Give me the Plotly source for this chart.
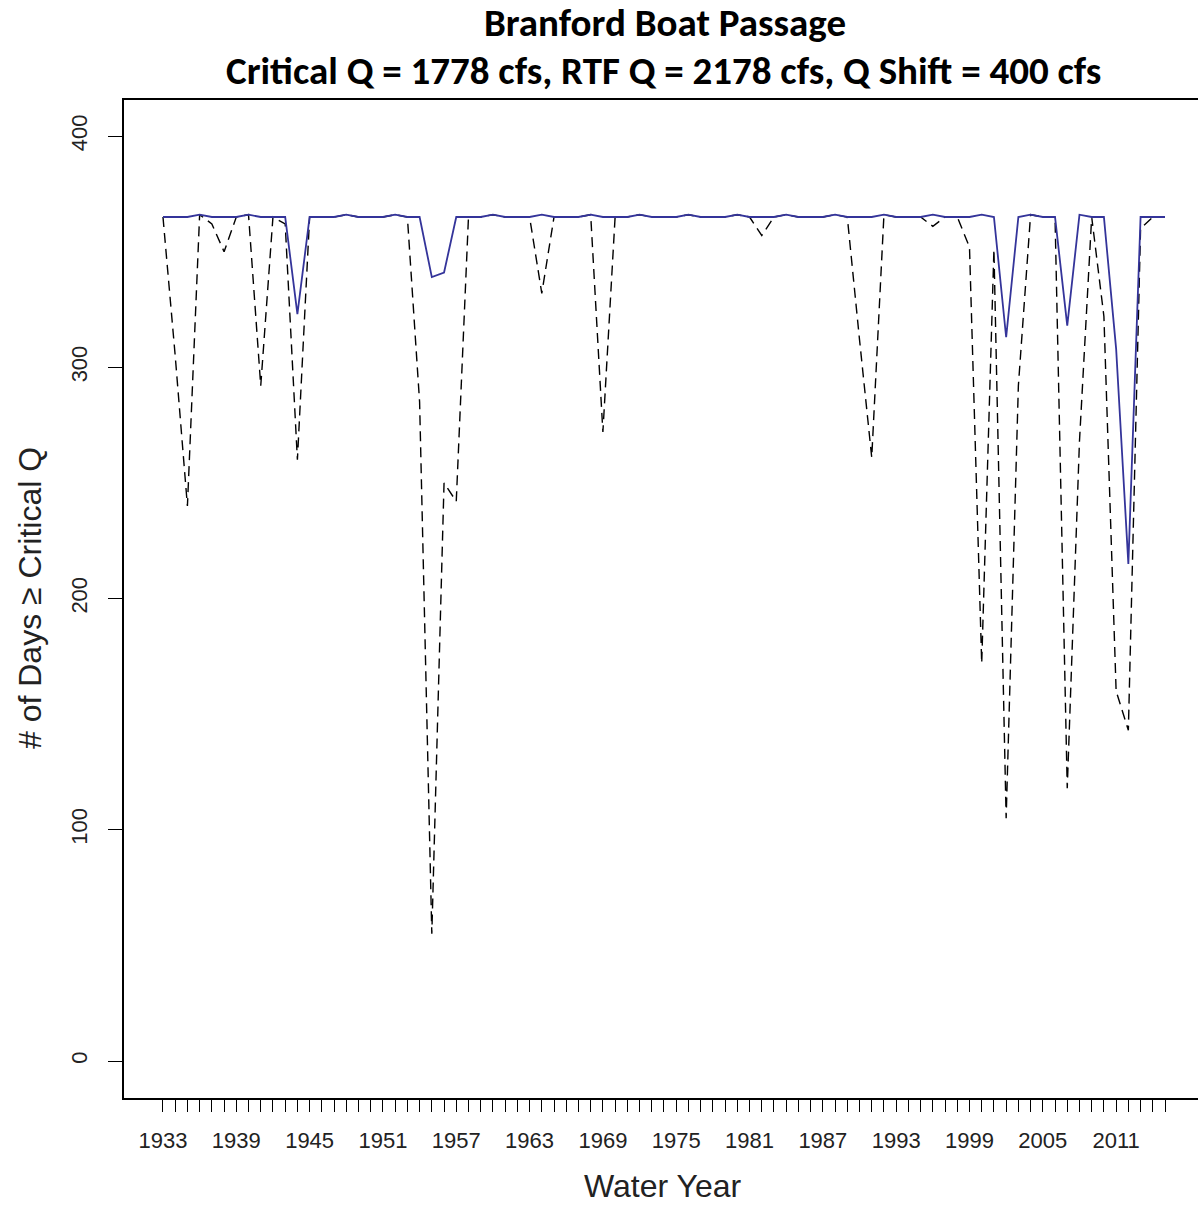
import plotly.graph_objects as go

# ---- data ----
years = list(range(1933, 2016))

# solid blue series: days >= critical Q
days_base = [
    365, 365, 365, 366, 365, 365, 365, 366, 365, 365,   # 1933-1942
    365, 323, 365, 365, 365, 366, 365, 365, 365, 366,   # 1943-1952
    365, 365, 339, 341, 365, 365, 365, 366, 365, 365,   # 1953-1962
    365, 366, 365, 365, 365, 366, 365, 365, 365, 366,   # 1963-1972
    365, 365, 365, 366, 365, 365, 365, 366, 365, 365,   # 1973-1982
    365, 366, 365, 365, 365, 366, 365, 365, 365, 366,   # 1983-1992
    365, 365, 365, 366, 365, 365, 365, 366, 365, 313,   # 1993-2002
    365, 366, 365, 365, 318, 366, 365, 365, 308, 215,   # 2003-2012
    365, 365, 365,                                      # 2013-2015
]

# dashed black series: days >= critical Q with the Q shift applied
days_shift = [
    365, 305, 240, 366, 362, 350, 365, 366, 292, 365,   # 1933-1942
    362, 260, 365, 365, 365, 366, 365, 365, 365, 366,   # 1943-1952
    365, 285, 55, 250, 242, 365, 365, 366, 365, 365,    # 1953-1962
    365, 332, 365, 365, 365, 366, 272, 365, 365, 366,   # 1963-1972
    365, 365, 365, 366, 365, 365, 365, 366, 365, 357,   # 1973-1982
    365, 366, 365, 365, 365, 366, 365, 312, 261, 366,   # 1983-1992
    365, 365, 365, 361, 365, 365, 352, 172, 351, 105,   # 1993-2002
    292, 366, 365, 365, 118, 268, 365, 322, 160, 143,   # 2003-2012
    360, 365, 365,                                      # 2013-2015
]

x_ticks = years
x_labels = [str(y) if (y - 1933) % 6 == 0 else "" for y in years]
y_ticks = [0, 100, 200, 300, 400]

title_line1 = "Branford Boat Passage"
title_line2 = "Critical Q = 1778 cfs, RTF Q = 2178 cfs, Q Shift = 400 cfs"
x_title = "Water Year"
y_title = "# of Days \u2265 Critical Q"

# ---- figure ----
fig = go.Figure()
fig.add_trace(go.Scatter(
    x=years, y=days_shift, mode="lines", name="Q shift",
    line=dict(color="black", width=1.4, dash="10px,6px"),
))
fig.add_trace(go.Scatter(
    x=years, y=days_base, mode="lines", name="Critical Q",
    line=dict(color="#34349a", width=1.8),
))

axis_font = dict(family="Liberation Sans, Arial, sans-serif", size=22, color="#222222")
title_font = dict(family="Carlito, Liberation Sans Narrow, Open Sans, sans-serif", size=39, color="black")
label_font = dict(family="Liberation Sans, Arial, sans-serif", size=32, color="#222222")

fig.update_layout(
    width=1198, height=1206, autosize=False,
    margin=dict(l=124, r=0, t=100, b=108),
    paper_bgcolor="white", plot_bgcolor="white",
    showlegend=False,
    xaxis=dict(
        range=[1929.81, 2017.7],
        tickmode="array", tickvals=x_ticks, ticktext=x_labels,
        ticks="outside", ticklen=12, tickwidth=1, tickcolor="black",
        showline=True, linecolor="black", linewidth=1.5, mirror=True,
        showgrid=False, zeroline=False,
        tickfont=axis_font, ticklabelstandoff=10,
    ),
    yaxis=dict(
        range=[-16, 415.6],
        tickmode="array", tickvals=y_ticks,
        ticks="outside", ticklen=14, tickwidth=1, tickcolor="black",
        showline=True, linecolor="black", linewidth=1.5, mirror=False,
        showgrid=False, zeroline=False,
        tickangle=-90, tickfont=axis_font, ticklabelstandoff=12,
    ),
    annotations=[
        dict(text="<b>" + title_line1 + "</b>", xref="paper", yref="paper",
             x=(665 - 124) / 1074, y=(1098 - 22) / 998, xanchor="center", yanchor="middle",
             showarrow=False, font=title_font),
        dict(text="<b>" + title_line2 + "</b>", xref="paper", yref="paper",
             x=(663 - 124) / 1074, y=(1098 - 70) / 998, xanchor="center", yanchor="middle",
             showarrow=False, font=title_font),
        dict(text=x_title, xref="paper", yref="paper",
             x=(662 - 124) / 1074, y=(1098 - 1186) / 998,
             xanchor="center", yanchor="middle", showarrow=False, font=label_font),
        dict(text=y_title, xref="paper", yref="paper",
             x=(30 - 124) / 1074, y=(1098 - 598) / 998, textangle=-90,
             xanchor="center", yanchor="middle", showarrow=False, font=label_font),
    ],
)

fig.write_html(
    "out.html",
    config={"displayModeBar": False},
    post_script="document.body.style.margin='0';document.body.style.padding='0';"
                "document.documentElement.style.overflow='hidden';",
)
